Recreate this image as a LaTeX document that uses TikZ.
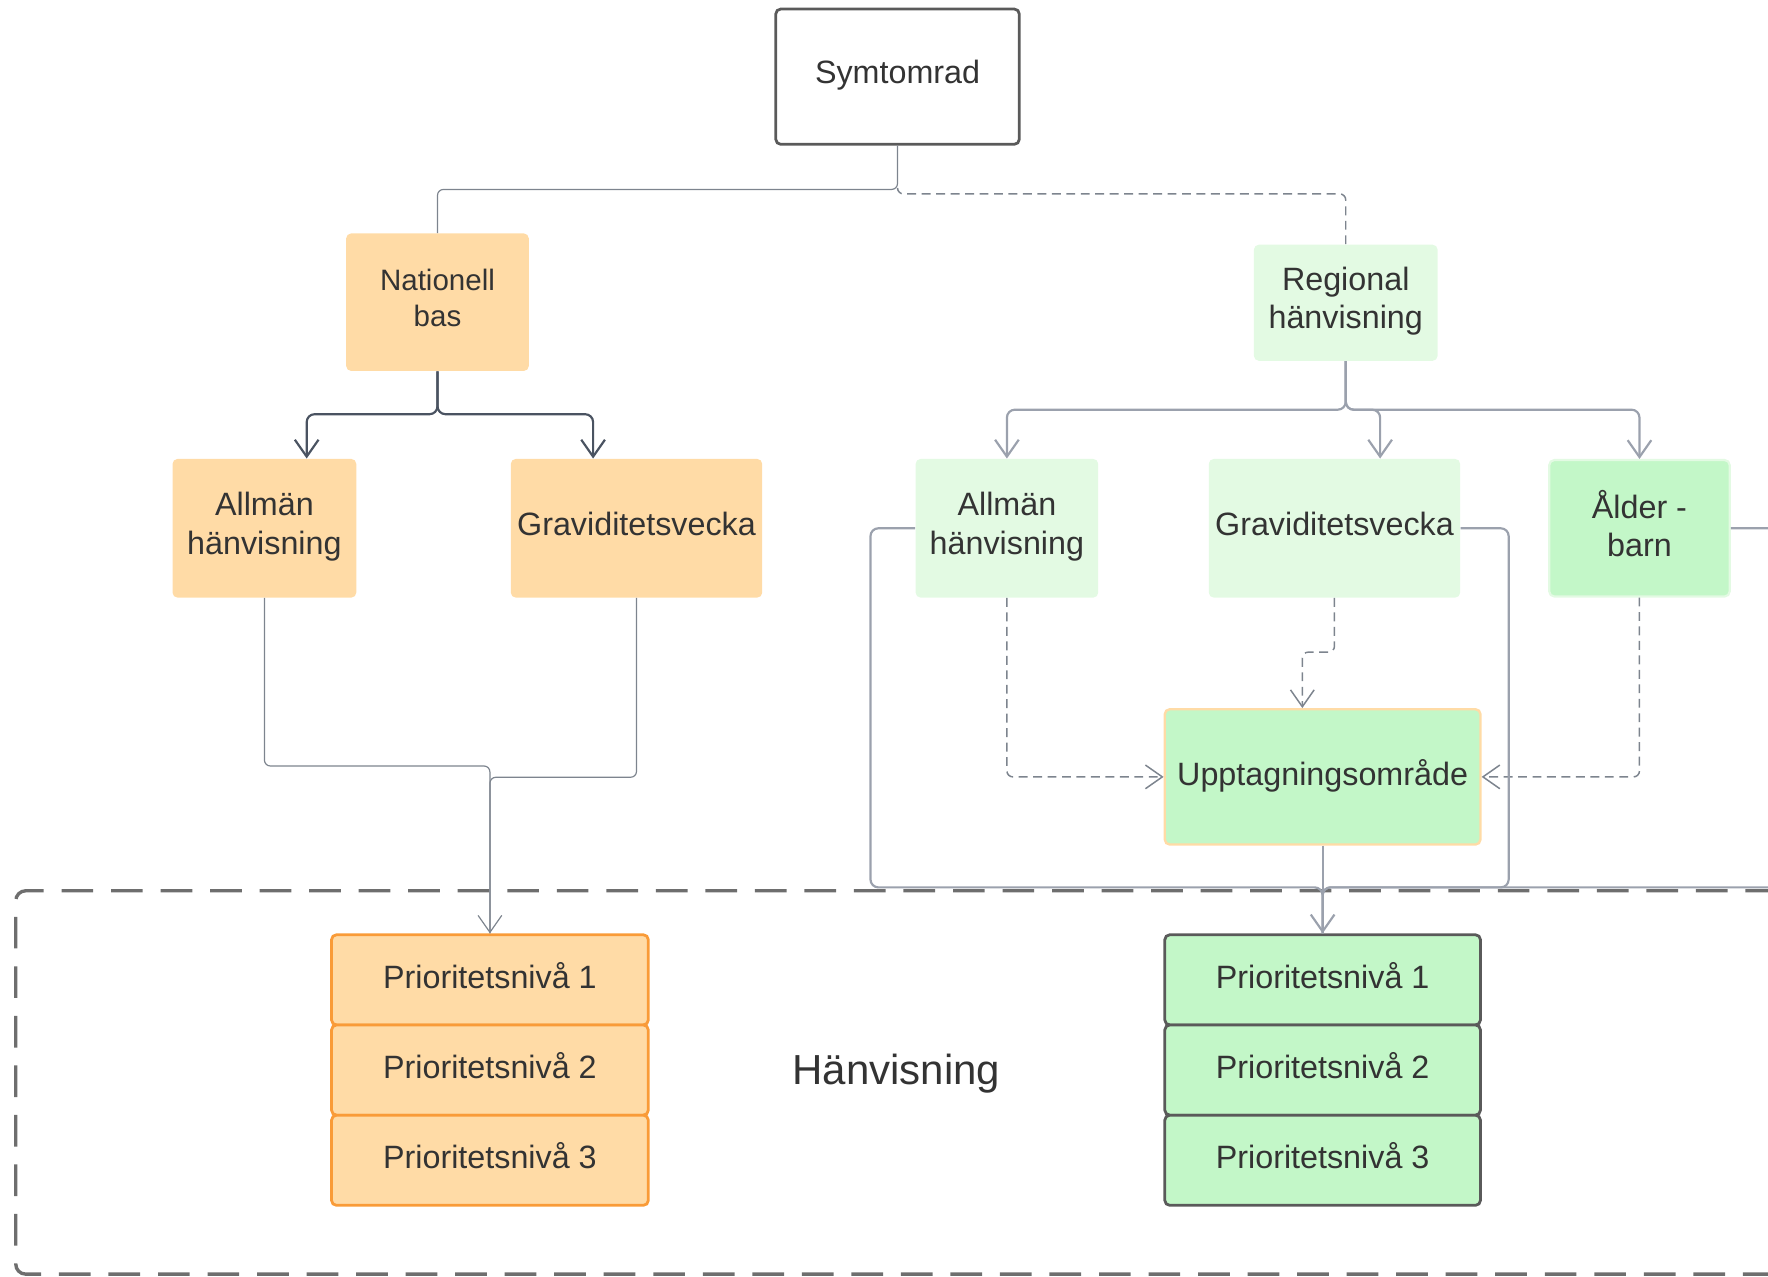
\documentclass[tikz,border=0pt]{standalone}
\usepackage{fontspec}
\setmainfont{Liberation Sans}
\usetikzlibrary{arrows.meta}

\definecolor{ink}{HTML}{333333}
\definecolor{natfill}{HTML}{FFDBA6}
\definecolor{regfill}{HTML}{E3FAE3}
\definecolor{grnfill}{HTML}{C3F7C8}
\definecolor{orgline}{HTML}{F99B38}
\definecolor{boxline}{HTML}{5A5A5A}
\definecolor{natline}{HTML}{4A5361}
\definecolor{regline}{HTML}{9BA1AD}
\definecolor{thinline}{HTML}{7D848E}
\definecolor{frameline}{HTML}{6E6E6E}

\tikzset{
  >={Straight Barb[length=0.3cm,width=0.42cm]},
  box/.style={rectangle,rounded corners=2.5pt,align=center,text=ink,inner sep=0pt,
    font=\fontsize{16.3}{19.4}\selectfont,
    execute at end node={\rule[-0.3em]{0pt}{0.3em}}},
  natbox/.style={box,fill=natfill},
  regbox/.style={box,fill=regfill},
  priol/.style={box,fill=natfill,draw=orgline,line width=1.4pt,minimum width=5.62cm,minimum height=1.6cm},
  prior/.style={box,fill=grnfill,draw=boxline,line width=1.4pt,minimum width=5.6cm,minimum height=1.6cm},
  thinlink/.style={draw=thinline,line width=0.6pt,rounded corners=3pt},
  natlink/.style={draw=natline,line width=1.1pt,rounded corners=4pt},
  reglink/.style={draw=regline,line width=1.1pt,rounded corners=4pt},
  dashlink/.style={draw=thinline,line width=0.75pt,rounded corners=3pt,dash pattern=on 4.5pt off 2.8pt},
  frame/.style={draw=frameline,line width=1.7pt,rounded corners=5pt,dash pattern=on 16pt off 9pt}
}

\begin{document}
\begin{tikzpicture}[x=0.02cm,y=-0.02cm]
\useasboundingbox (0,0) rectangle (1568,1132);
\clip (0,0) rectangle (1568,1132);

\draw[frame] (1620,790) -- (14,790) -- (14,1130) -- (1620,1130);

\node[box,draw=boxline,line width=1.4pt,minimum width=4.32cm,minimum height=2.4cm] (sym) at (796,68) {Symtomrad};

\node[natbox,minimum width=3.24cm,minimum height=2.44cm,font=\fontsize{14.9}{18.2}\selectfont] (nat) at (388,268) {Nationell\\bas};
\node[natbox,minimum width=3.26cm,minimum height=2.46cm] (allmL) at (234.5,468.5) {Allmän\\hänvisning};
\node[natbox,minimum width=4.46cm,minimum height=2.46cm] (gravL) at (564.5,468.5) {Graviditetsvecka};

\node[regbox,minimum width=3.26cm,minimum height=2.06cm] (reg) at (1193.5,268.5) {Regional\\hänvisning};
\node[regbox,minimum width=3.24cm,minimum height=2.46cm] (allmR) at (893,468.5) {Allmän\\hänvisning};
\node[regbox,minimum width=4.46cm,minimum height=2.46cm] (gravR) at (1183.5,468.5) {Graviditetsvecka};
\node[box,fill=grnfill,draw=regfill,line width=1.1pt,minimum width=3.2cm,minimum height=2.42cm] (alder) at (1454,468.5) {Ålder -\\barn};

\node[box,fill=grnfill,draw=natfill,line width=1.2pt,minimum width=5.6cm,minimum height=2.4cm] (upp) at (1173,689) {Upptagningsområde};

\foreach \i/\y in {1/869,2/949,3/1029}{
  \node[priol] (pL\i) at (434.5,\y) {Prioritetsnivå \i};
  \node[prior] (pR\i) at (1173,\y) {Prioritetsnivå \i};
}

\node[text=ink,font=\fontsize{21.2}{25}\selectfont] (hv) at (795,952) {Hänvisning};

\coordinate (sj) at (796,168);
\draw[thinlink] (sym.south) -- (sj) -| (nat.north);
\draw[dashlink] (sj) -- ++(0,4) -| (reg.north);

\draw[natlink,->] (nat.south) -- ++(0,38) -| ([xshift=0.75cm]allmL.north);
\draw[natlink,->] (nat.south) -- ++(0,38) -| ([xshift=-0.77cm]gravL.north);

\draw[reglink,->] (reg.south) -- ++(0,43) -| (allmR.north);
\draw[reglink,->] (reg.south) -- ++(0,43) -| ([xshift=0.81cm]gravR.north);
\draw[reglink,->] (reg.south) -- ++(0,43) -| (alder.north);

\draw[thinlink] (gravL.south) -- ++(0,159) -| (pL1.north);
\draw[thinlink,->] (allmL.south) -- ++(0,149) -| (pL1.north);

\draw[dashlink,->] (allmR.south) |- (upp.west);
\draw[dashlink,->] (gravR.south) -- ++(0,48) -| ([xshift=-0.36cm]upp.north);
\draw[dashlink,->] (alder.south) |- (upp.east);

\draw[reglink] (gravR.east) -| (1338,787) -| (pR1.north);
\draw[reglink] (alder.east) -| (1620,787) -| (pR1.north);
\draw[reglink] (allmR.west) -| (772,787) -| (pR1.north);
\draw[reglink,->] (upp.south) -- (pR1.north);
\end{tikzpicture}
\end{document}
